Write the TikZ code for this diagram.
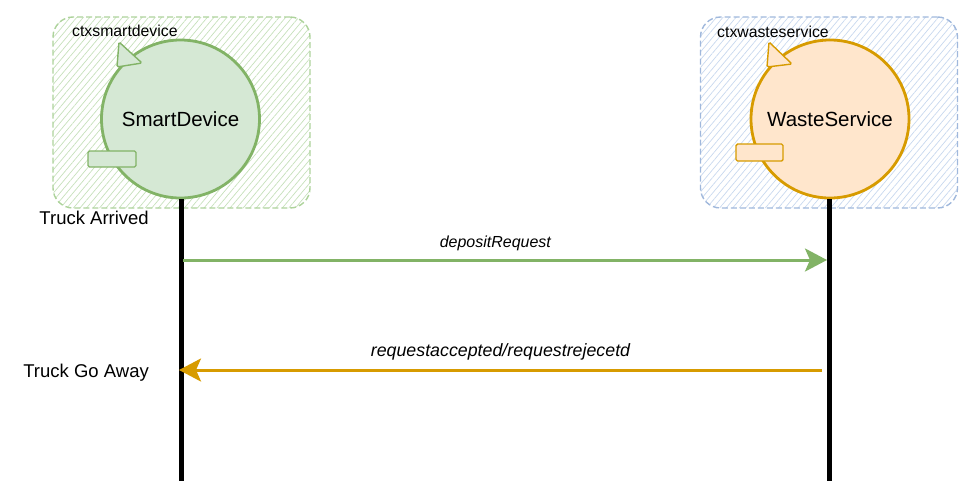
\documentclass[tikz,border=0pt]{standalone}
\usepackage{fontspec}
\setmainfont{Liberation Sans}
\usetikzlibrary{positioning,arrows.meta,patterns.meta}

\definecolor{sdfill}{HTML}{D5E8D4}
\definecolor{sdline}{HTML}{82B366}
\definecolor{wsfill}{HTML}{FFE6CC}
\definecolor{wsline}{HTML}{D79B00}
\definecolor{ctxgreen}{HTML}{ADD39B}
\definecolor{ctxblue}{HTML}{A0B8DC}
\definecolor{hatchgreen}{HTML}{C6E0BB}
\definecolor{hatchblue}{HTML}{C8D8EE}

\tikzset{
  ctxbox/.style 2 args={draw=#1, dash pattern=on 6pt off 3pt, line width=1.4pt,
    rounded corners=20pt, minimum width=257pt, minimum height=191pt,
    pattern={Lines[angle=50,distance=5pt,line width=0.7pt]}, pattern color=#2},
  ctxlabel/.style={font=\fontsize{15.8}{19}\selectfont, inner sep=0pt, anchor=west},
  actor/.style 2 args={circle, draw=#1, fill=#2, line width=2.8pt, minimum size=158pt,
    inner sep=0pt, font=\fontsize{20.5}{24}\selectfont},
  port/.style 2 args={draw=#1, fill=#2, line width=1.4pt, rounded corners=1.5pt},
  lifeline/.style={line width=5pt, black},
  msg/.style={line width=3pt, -{Stealth[length=22pt,width=23pt,inset=5pt]}},
  msglabel/.style={font=\fontsize{16}{19}\selectfont\itshape},
  note/.style={font=\fontsize{18.5}{22}\selectfont, anchor=east, inner sep=0pt}
}

\begin{document}
\begin{tikzpicture}[x=1pt,y=-1pt]
  \useasboundingbox (0,0) rectangle (964,490);

  % contexts
  \node[ctxbox={ctxgreen}{hatchgreen}] (ctxsd) at (181.5,112.5) {};
  \node[ctxbox={ctxblue}{hatchblue}] (ctxws) at (829,112.5) {};
  \node[ctxlabel] (ctxsdlabel) at (72,31) {ctxsmartdevice};
  \node[ctxlabel] (ctxwslabel) at (717,32) {ctxwasteservice};

  % actors
  \node[actor={sdline}{sdfill}] (sd) at (180.5,119) {SmartDevice};
  \node[actor={wsline}{wsfill}] (ws) at (830,119) {WasteService};
  \draw[port={sdline}{sdfill}] (119,42) -- (142,63) -- (117,67) -- cycle;
  \draw[port={wsline}{wsfill}] (769,42) -- (792,64) -- (767,67) -- cycle;
  \draw[port={sdline}{sdfill}] (88,151) rectangle (136,167);
  \draw[port={wsline}{wsfill}] (736,144) rectangle (783,161);

  % lifelines
  \coordinate (sdend) at (181,481);
  \coordinate (wsend) at (829,481);
  \draw[lifeline] (sd.south -| sdend) -- (sdend);
  \draw[lifeline] (ws.south -| wsend) -- (wsend);

  % messages
  \coordinate (sdreq) at (183,260);
  \coordinate (wsreq) at (827,260);
  \coordinate (wsans) at (822,370);
  \coordinate (sdans) at (179,370);
  \draw[msg, sdline] (sdreq) -- node[msglabel, above=4pt, pos=0.485, black] (reqlabel) {depositRequest} (wsreq);
  \draw[msg, wsline] (wsans) -- node[msglabel, above=5pt, black, font=\fontsize{17.8}{21}\selectfont\itshape] (anslabel) {requestaccepted/requestrejecetd} (sdans);

  \node[note] (arrived) at (149,218) {Truck Arrived};
  \node[note] (goaway) at (149,373) {Truck Go Away};
\end{tikzpicture}
\end{document}
